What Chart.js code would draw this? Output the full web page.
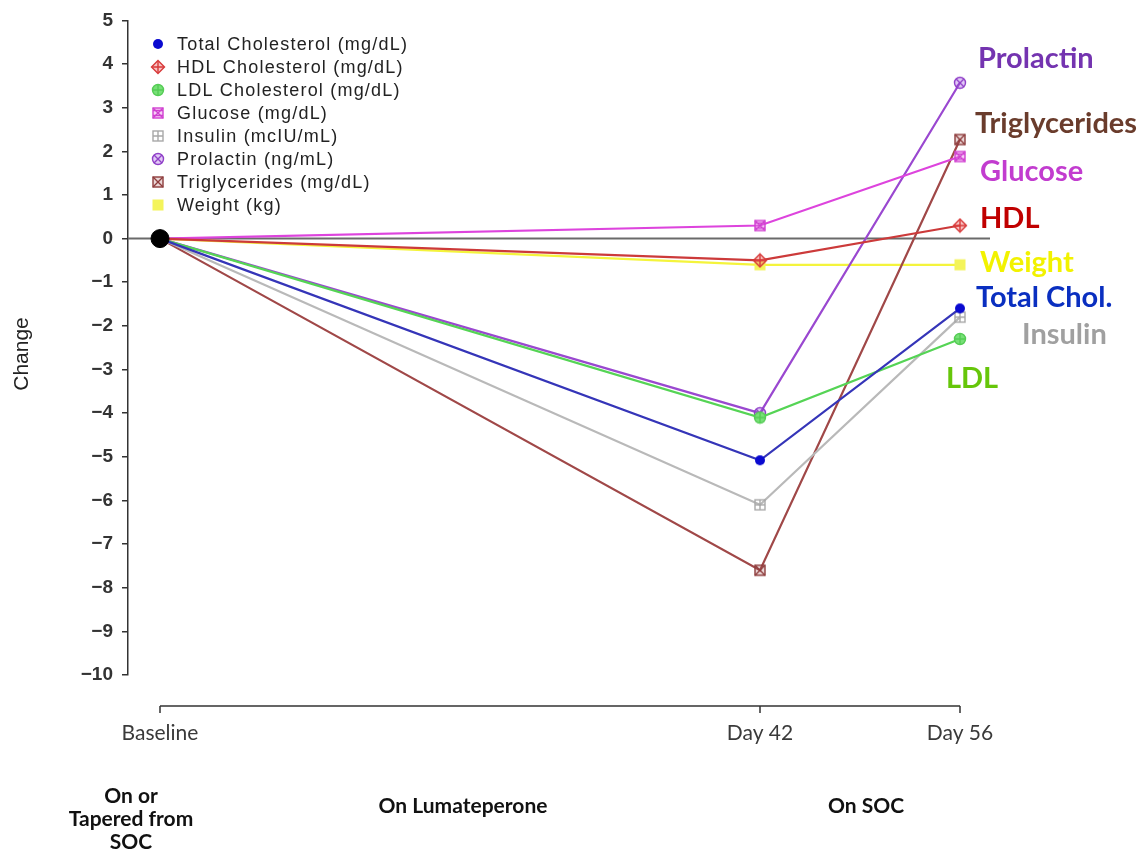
<!DOCTYPE html>
<html>
<head>
<meta charset="utf-8">
<title>Change from Baseline</title>
<script src="https://cdn.jsdelivr.net/npm/chart.js@4/dist/chart.umd.min.js"></script>
<style>
  html, body { margin: 0; padding: 0; background: #ffffff; }
  #wrap { width: 1148px; height: 852px; position: relative; }
</style>
</head>
<body>
<div id="wrap"><canvas id="chart" width="1148" height="852"></canvas></div>
<script>
// Study days and their axis labels
const days = [0, 42, 56];
const dayLabels = ['Baseline', 'Day 42', 'Day 56'];
const yTickValues = [5, 4, 3, 2, 1, 0, -1, -2, -3, -4, -5, -6, -7, -8, -9, -10];

// Mean change from baseline per measure
const totalChol     = [0, -5.08, -1.6];
const hdlChol       = [0, -0.5, 0.3];
const ldlChol       = [0, -4.1, -2.3];
const glucose       = [0, 0.3, 1.88];
const insulin       = [0, -6.1, -1.8];
const prolactin     = [0, -4.0, 3.57];
const triglycerides = [0, -7.6, 2.27];
const weight        = [0, -0.6, -0.6];
const baselinePoint = [0];

const legendNames = [
  'Total Cholesterol (mg/dL)', 'HDL Cholesterol (mg/dL)', 'LDL Cholesterol (mg/dL)',
  'Glucose (mg/dL)', 'Insulin (mcIU/mL)', 'Prolactin (ng/mL)',
  'Triglycerides (mg/dL)', 'Weight (kg)'
];
const endLabels = ['Total Chol.', 'HDL', 'LDL', 'Glucose', 'Insulin', 'Prolactin', 'Triglycerides', 'Weight'];
const phaseLabels = [['On or', 'Tapered from', 'SOC'], ['On Lumateperone'], ['On SOC']];

// ---- marker glyphs ----
function glyph(size, draw) {
  const c = document.createElement('canvas');
  c.width = size; c.height = size;
  const g = c.getContext('2d');
  g.lineWidth = 1.4;
  draw(g, size / 2, size);
  return c;
}
function filledCircle(color, r) {
  return glyph(r * 2 + 2, (g, m) => { g.fillStyle = color; g.beginPath(); g.arc(m, m, r, 0, Math.PI * 2); g.fill(); });
}
function diamondPlus(color) {
  return glyph(16, (g, m) => {
    g.strokeStyle = color; g.fillStyle = 'rgba(240,120,120,0.45)';
    g.beginPath(); g.moveTo(m, 1.5); g.lineTo(14.5, m); g.lineTo(m, 14.5); g.lineTo(1.5, m); g.closePath();
    g.fill(); g.stroke();
    g.beginPath(); g.moveTo(m, 2); g.lineTo(m, 14); g.moveTo(2, m); g.lineTo(14, m); g.stroke();
  });
}
function circlePlus(color, fill) {
  return glyph(14, (g, m) => {
    g.strokeStyle = color; g.fillStyle = fill;
    g.beginPath(); g.arc(m, m, 5.5, 0, Math.PI * 2); g.fill(); g.stroke();
    g.beginPath(); g.moveTo(m, 1.5); g.lineTo(m, 12.5); g.moveTo(1.5, m); g.lineTo(12.5, m); g.stroke();
  });
}
function squareHourglass(color) {
  return glyph(14, (g, m) => {
    g.strokeStyle = color; g.fillStyle = 'rgba(230,120,230,0.35)';
    g.fillRect(2, 2, 10, 10); g.strokeRect(2, 2, 10, 10);
    g.beginPath(); g.moveTo(2, 2); g.lineTo(12, 12); g.moveTo(12, 2); g.lineTo(2, 12); g.stroke();
    g.beginPath(); g.moveTo(2, 4.5); g.lineTo(12, 4.5); g.moveTo(2, 9.5); g.lineTo(12, 9.5); g.stroke();
  });
}
function squarePlus(color) {
  return glyph(14, (g, m) => {
    g.strokeStyle = color;
    g.strokeRect(2, 2, 10, 10);
    g.beginPath(); g.moveTo(m, 2); g.lineTo(m, 12); g.moveTo(2, m); g.lineTo(12, m); g.stroke();
  });
}
function circleX(color) {
  return glyph(14, (g, m) => {
    g.strokeStyle = color; g.fillStyle = 'rgba(170,100,230,0.35)';
    g.beginPath(); g.arc(m, m, 5.5, 0, Math.PI * 2); g.fill(); g.stroke();
    g.beginPath(); g.moveTo(3, 3); g.lineTo(11, 11); g.moveTo(11, 3); g.lineTo(3, 11); g.stroke();
  });
}
function squareX(color) {
  return glyph(14, (g, m) => {
    g.strokeStyle = color; g.fillStyle = 'rgba(170,90,90,0.25)';
    g.fillRect(2, 2, 10, 10); g.strokeRect(2, 2, 10, 10);
    g.beginPath(); g.moveTo(2, 2); g.lineTo(12, 12); g.moveTo(12, 2); g.lineTo(2, 12); g.stroke();
  });
}
function filledSquare(color) {
  return glyph(14, (g) => { g.fillStyle = color; g.fillRect(1.5, 1.5, 11, 11); });
}

const series = [
  { name: legendNames[0], values: totalChol,     line: '#3535b8', marker: filledCircle('#0a0ad0', 5),          label: endLabels[0], labelColor: '#0a2fc0', lx: 976,  ly: 298 },
  { name: legendNames[1], values: hdlChol,       line: '#cc3a3a', marker: diamondPlus('#d83a3a'),              label: endLabels[1], labelColor: '#c00000', lx: 980,  ly: 219 },
  { name: legendNames[2], values: ldlChol,       line: '#55d455', marker: circlePlus('#55cc55', '#77e077'),   label: endLabels[2], labelColor: '#66c60a', lx: 946,  ly: 379 },
  { name: legendNames[3], values: glucose,       line: '#dd44dd', marker: squareHourglass('#d040d0'),         label: endLabels[3], labelColor: '#c23ccf', lx: 980,  ly: 172 },
  { name: legendNames[4], values: insulin,       line: '#b9b9b9', marker: squarePlus('#a8a8a8'),              label: endLabels[4], labelColor: '#a0a0a0', lx: 1022, ly: 335 },
  { name: legendNames[5], values: prolactin,     line: '#9a48d0', marker: circleX('#9040c8'),                 label: endLabels[5], labelColor: '#7434b0', lx: 978,  ly: 59 },
  { name: legendNames[6], values: triglycerides, line: '#a04848', marker: squareX('#8e3c3c'),                 label: endLabels[6], labelColor: '#6a3c2c', lx: 975,  ly: 124 },
  { name: legendNames[7], values: weight,        line: '#f4f43c', marker: filledSquare('#f4f45a'),            label: endLabels[7], labelColor: '#f2f200', lx: 980,  ly: 263 }
];

const datasets = series.map((s) => ({
  label: s.name,
  data: days.map((d, i) => ({ x: d, y: s.values[i] })),
  borderColor: s.line,
  backgroundColor: s.line,
  borderWidth: 2.2,
  pointStyle: s.marker,
  pointRadius: 7,
  tension: 0,
  fill: false,
  order: 2
}));
datasets.push({
  label: 'Baseline',
  data: baselinePoint.map((v, i) => ({ x: days[i], y: v })),
  showLine: false,
  pointStyle: 'circle',
  pointRadius: 9,
  pointBackgroundColor: '#000000',
  pointBorderColor: '#000000',
  order: 0
});

const TXT = '#333333';
const minus = (v) => (v < 0 ? '\u2212' + Math.abs(v) : String(v));

// Reference line, offset time axis, legend box and annotation text
const decorations = {
  id: 'decorations',
  beforeDatasetsDraw(chart) {
    const { ctx, chartArea, scales } = chart;
    const y0 = scales.y.getPixelForValue(0);
    ctx.save();
    ctx.strokeStyle = '#6a6a6a';
    ctx.lineWidth = 2;
    ctx.beginPath();
    ctx.moveTo(chartArea.left, y0);
    ctx.lineTo(chartArea.right, y0);
    ctx.stroke();
    ctx.restore();
  },
  afterDraw(chart) {
    const { ctx, scales } = chart;
    const x = scales.x;
    ctx.save();

    // time axis drawn below the plotting region
    const axY = 706;
    ctx.strokeStyle = TXT;
    ctx.lineWidth = 1.5;
    ctx.beginPath();
    ctx.moveTo(x.getPixelForValue(days[0]), axY);
    ctx.lineTo(x.getPixelForValue(days[days.length - 1]), axY);
    days.forEach((d) => {
      const px = x.getPixelForValue(d);
      ctx.moveTo(px, axY);
      ctx.lineTo(px, axY + 7);
    });
    ctx.stroke();

    // y-axis title
    ctx.fillStyle = '#222';
    ctx.font = '21px "Liberation Sans", Arial, sans-serif';
    ctx.textAlign = 'center';
    ctx.textBaseline = 'middle';
    ctx.translate(22, 354);
    ctx.rotate(-Math.PI / 2);
    ctx.fillText('Change', 0, 0);
    ctx.setTransform(1, 0, 0, 1, 0, 0);

    // legend
    ctx.font = '18px "Liberation Sans", Arial, sans-serif';
    ctx.textAlign = 'left';
    ctx.letterSpacing = '1.2px';
    series.forEach((s, i) => {
      const cy = 44 + i * 23;
      const m = s.marker;
      ctx.drawImage(m, 158 - m.width / 2, cy - m.height / 2);
      ctx.fillStyle = '#222';
      ctx.fillText(s.name, 177, cy + 1);
    });
    ctx.letterSpacing = '0px';

    // end-of-line labels
    ctx.font = 'bold 29px Lato, "Open Sans", sans-serif';
    series.forEach((s) => {
      ctx.fillStyle = s.labelColor;
      ctx.fillText(s.label, s.lx, s.ly);
    });

    // treatment phase captions
    ctx.fillStyle = '#111';
    ctx.font = 'bold 21px Lato, "Open Sans", sans-serif';
    ctx.textAlign = 'center';
    const phaseX = [131, 463, 866];
    const phaseY = [796, 806, 806];
    phaseLabels.forEach((lines, i) => {
      lines.forEach((t, j) => ctx.fillText(t, phaseX[i], phaseY[i] + j * 23));
    });
    ctx.restore();
  }
};

new Chart(document.getElementById('chart'), {
  type: 'line',
  data: { datasets },
  options: {
    responsive: false,
    animation: false,
    layout: { padding: { left: 0, top: 19, right: 158, bottom: 0 } },
    plugins: { legend: { display: false }, tooltip: { enabled: false } },
    scales: {
      x: {
        type: 'linear',
        min: -2.24,
        max: 58.1,
        afterBuildTicks(scale) { scale.ticks = days.map((d) => ({ value: d })); },
        afterFit(scale) { scale.height = 852 - 19 - 656; },
        grid: { display: false, drawTicks: false },
        border: { display: false },
        ticks: {
          autoSkip: false,
          maxRotation: 0,
          padding: 46,
          color: '#3a3a3a',
          font: { family: 'Lato, "Open Sans", sans-serif', size: 21 },
          callback(value) { const i = days.indexOf(value); return i >= 0 ? dayLabels[i] : ''; }
        }
      },
      y: {
        type: 'linear',
        min: -10,
        max: 5,
        afterBuildTicks(scale) { scale.ticks = yTickValues.map((v) => ({ value: v })); },
        afterFit(scale) { scale.width = 128; },
        grid: { display: true, drawOnChartArea: false, drawTicks: true, tickLength: 6, color: TXT, lineWidth: 1.5 },
        border: { display: true, color: TXT, width: 1.5 },
        ticks: {
          padding: 9,
          color: '#333',
          font: { family: '"Liberation Sans", Arial, sans-serif', size: 19, weight: 'bold' },
          callback: (v) => minus(v)
        }
      }
    }
  },
  plugins: [decorations]
});
</script>
</body>
</html>
